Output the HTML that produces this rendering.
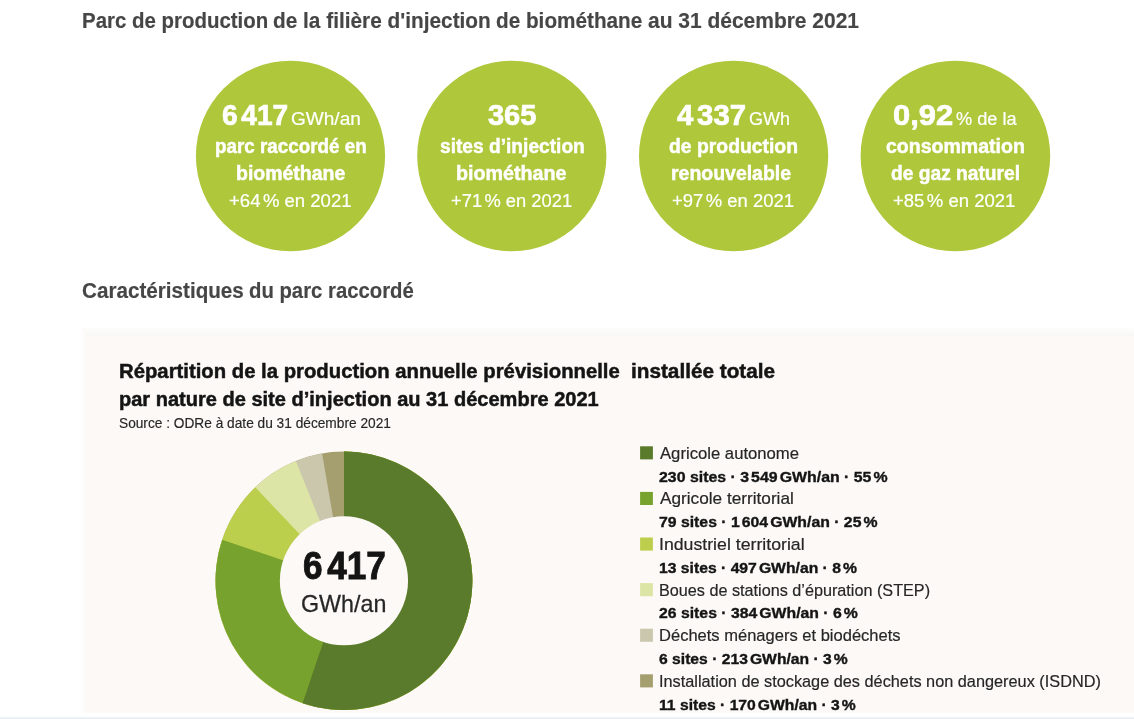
<!DOCTYPE html>
<html lang="fr">
<head>
<meta charset="utf-8">
<title>Parc de production de la filière d'injection de biométhane</title>
<style>
html,body{margin:0;padding:0;background:#fff;}
body{width:1134px;height:719px;position:relative;overflow:hidden;font-family:"Liberation Sans",Arial,sans-serif;}
.t{position:absolute;display:block;white-space:nowrap;transform-origin:0 0;margin:0;padding:0;}
h1,h2,h3,p,ul,li,section{margin:0;padding:0;font:inherit;list-style:none;}
.panel{position:absolute;left:81px;top:328px;width:1053px;height:386px;background:linear-gradient(to right,#fffefe 0,#fcf9f7 6px);}
.panel:after{content:"";position:absolute;left:0;right:0;bottom:0;height:3px;background:linear-gradient(rgba(255,255,255,0),#fefefd);}
.panel:before{content:"";position:absolute;left:5px;top:0;right:0;height:8px;background:linear-gradient(#fdfdfc,#f7f8f6);}
.foot{position:absolute;left:0;top:716px;width:1134px;height:3px;background:linear-gradient(rgba(244,249,251,0),#f2f7f9 45%,#e2e8ee);}
svg{position:absolute;left:0;top:0;}
</style>
</head>
<body>
<div class="panel"></div>
<svg width="1134" height="719" viewBox="0 0 1134 719">
<g fill="#afc73a">
<ellipse cx="290.5" cy="156" rx="94.6" ry="95.3"/>
<ellipse cx="511.8" cy="156" rx="94.6" ry="95.3"/>
<ellipse cx="733.6" cy="156" rx="94.6" ry="95.3"/>
<ellipse cx="955.4" cy="156" rx="94.8" ry="95.3"/>
</g>
<g transform="translate(343.95 580.8) scale(1 1.0065)"><circle r="128.4" fill="#a59e6f"/>
<path fill="#cac7ad" d="M0 0L0 -128.4A128.4 128.4 0 1 1 -21.85 -126.53Z"/>
<path fill="#dce4a6" d="M0 0L0 -128.4A128.4 128.4 0 1 1 -48.10 -119.05Z"/>
<path fill="#bbcf4d" d="M0 0L0 -128.4A128.4 128.4 0 1 1 -88.71 -92.83Z"/>
<path fill="#77a22e" d="M0 0L0 -128.4A128.4 128.4 0 1 1 -121.76 -40.74Z"/>
<path fill="#5a7b2b" d="M0 0L0 -128.4A128.4 128.4 0 1 1 -41.38 121.55Z"/>
<circle r="64.1" fill="#fcf9f7"/></g>
<rect x="640.1" y="446.3" width="12.8" height="13.1" fill="#5a7b2b"/>
<rect x="640.1" y="491.9" width="12.8" height="13.1" fill="#77a22e"/>
<rect x="640.1" y="537.5" width="12.8" height="13.1" fill="#bbcf4d"/>
<rect x="640.1" y="583.1" width="12.8" height="13.1" fill="#dce4a6"/>
<rect x="640.1" y="628.7" width="12.8" height="13.1" fill="#cac7ad"/>
<rect x="640.1" y="674.3" width="12.8" height="13.1" fill="#a59e6f"/>
</svg>
<h1><span class="t" style="left:81.90px;top:8.10px;font-size:21.6px;line-height:26px;font-weight:700;color:#464646;-webkit-text-stroke:0.15px #464646;transform:scaleX(0.9466)">Parc de production</span>
<span class="t" style="left:273.14px;top:8.10px;font-size:21.6px;line-height:26px;font-weight:700;color:#464646;-webkit-text-stroke:0.15px #464646;transform:scaleX(0.9640)">de la filière d'injection</span>
<span class="t" style="left:496.14px;top:8.10px;font-size:21.6px;line-height:26px;font-weight:700;color:#464646;-webkit-text-stroke:0.15px #464646;transform:scaleX(0.9602)">de biométhane</span>
<span class="t" style="left:648.33px;top:8.10px;font-size:21.6px;line-height:26px;font-weight:700;color:#464646;-webkit-text-stroke:0.15px #464646;transform:scaleX(0.9712)">au 31 décembre 2021</span></h1>
<section class="kpis">
<div class="kpi"><span class="t" style="left:221.50px;top:95.70px;font-size:30.3px;line-height:37px;font-weight:700;color:#ffffff;-webkit-text-stroke:0.73px #ffffff;transform:scaleX(0.9263)">6<span style="letter-spacing:-.07em">&#8201;</span>417</span>
<span class="t" style="left:290.79px;top:106.70px;font-size:18.9px;line-height:23px;font-weight:400;color:#ffffff;-webkit-text-stroke:0.21px #ffffff;transform:scaleX(1.0075)">GWh/an</span>
<span class="t" style="left:214.72px;top:133.60px;font-size:20px;line-height:24px;font-weight:700;color:#ffffff;-webkit-text-stroke:0.48px #ffffff;transform:scaleX(0.9406)">parc raccordé en</span>
<span class="t" style="left:235.58px;top:160.60px;font-size:20px;line-height:24px;font-weight:700;color:#ffffff;-webkit-text-stroke:0.48px #ffffff;transform:scaleX(0.9735)">biométhane</span>
<span class="t" style="left:229.27px;top:189.80px;font-size:17.6px;line-height:22px;font-weight:400;color:#ffffff;-webkit-text-stroke:0.19px #ffffff;transform:scaleX(1.0537)">+64<span style="letter-spacing:-.07em">&#8201;</span>% en 2021</span></div>
<div class="kpi"><span class="t" style="left:488.05px;top:95.70px;font-size:30.3px;line-height:37px;font-weight:700;color:#ffffff;-webkit-text-stroke:0.73px #ffffff;transform:scaleX(0.9569)">365</span>
<span class="t" style="left:439.77px;top:133.60px;font-size:20px;line-height:24px;font-weight:700;color:#ffffff;-webkit-text-stroke:0.48px #ffffff;transform:scaleX(0.9582)">sites d’injection</span>
<span class="t" style="left:456.26px;top:160.60px;font-size:20px;line-height:24px;font-weight:700;color:#ffffff;-webkit-text-stroke:0.48px #ffffff;transform:scaleX(0.9852)">biométhane</span>
<span class="t" style="left:450.98px;top:189.80px;font-size:17.6px;line-height:22px;font-weight:400;color:#ffffff;-webkit-text-stroke:0.19px #ffffff;transform:scaleX(1.0415)">+71<span style="letter-spacing:-.07em">&#8201;</span>% en 2021</span></div>
<div class="kpi"><span class="t" style="left:676.89px;top:95.70px;font-size:30.3px;line-height:37px;font-weight:700;color:#ffffff;-webkit-text-stroke:0.73px #ffffff;transform:scaleX(0.9662)">4<span style="letter-spacing:-.07em">&#8201;</span>337</span>
<span class="t" style="left:748.95px;top:106.70px;font-size:18.9px;line-height:23px;font-weight:400;color:#ffffff;-webkit-text-stroke:0.21px #ffffff;transform:scaleX(0.9532)">GWh</span>
<span class="t" style="left:669.38px;top:133.60px;font-size:20px;line-height:24px;font-weight:700;color:#ffffff;-webkit-text-stroke:0.48px #ffffff;transform:scaleX(0.9676)">de production</span>
<span class="t" style="left:671.28px;top:160.60px;font-size:20px;line-height:24px;font-weight:700;color:#ffffff;-webkit-text-stroke:0.48px #ffffff;transform:scaleX(0.9731)">renouvelable</span>
<span class="t" style="left:671.67px;top:189.80px;font-size:17.6px;line-height:22px;font-weight:400;color:#ffffff;-webkit-text-stroke:0.19px #ffffff;transform:scaleX(1.0485)">+97<span style="letter-spacing:-.07em">&#8201;</span>% en 2021</span></div>
<div class="kpi"><span class="t" style="left:893.28px;top:95.70px;font-size:30.3px;line-height:37px;font-weight:700;color:#ffffff;-webkit-text-stroke:0.73px #ffffff;transform:scaleX(1.0208)">0,92</span>
<span class="t" style="left:955.55px;top:106.70px;font-size:18.9px;line-height:23px;font-weight:400;color:#ffffff;-webkit-text-stroke:0.21px #ffffff;transform:scaleX(0.9625)">% de la</span>
<span class="t" style="left:886.03px;top:133.60px;font-size:20px;line-height:24px;font-weight:700;color:#ffffff;-webkit-text-stroke:0.48px #ffffff;transform:scaleX(0.9764)">consommation</span>
<span class="t" style="left:891.39px;top:160.60px;font-size:20px;line-height:24px;font-weight:700;color:#ffffff;-webkit-text-stroke:0.48px #ffffff;transform:scaleX(0.9599)">de gaz naturel</span>
<span class="t" style="left:893.27px;top:189.80px;font-size:17.6px;line-height:22px;font-weight:400;color:#ffffff;-webkit-text-stroke:0.19px #ffffff;transform:scaleX(1.0519)">+85<span style="letter-spacing:-.07em">&#8201;</span>% en 2021</span></div>
</section>
<h2><span class="t" style="left:81.74px;top:277.50px;font-size:21.6px;line-height:26px;font-weight:700;color:#464646;-webkit-text-stroke:0.15px #464646;transform:scaleX(0.9563)">Caractéristiques</span>
<span class="t" style="left:249.26px;top:277.50px;font-size:21.6px;line-height:26px;font-weight:700;color:#464646;-webkit-text-stroke:0.15px #464646;transform:scaleX(0.9407)">du parc raccordé</span></h2>
<section class="chart">
<h3><span class="t" style="left:118.75px;top:358.00px;font-size:20.6px;line-height:25px;font-weight:700;color:#141414;-webkit-text-stroke:0.49px #141414;transform:scaleX(0.9857)">Répartition de la production annuelle prévisionnelle</span>
<span class="t" style="left:630.79px;top:358.00px;font-size:20.6px;line-height:25px;font-weight:700;color:#141414;-webkit-text-stroke:0.49px #141414;transform:scaleX(1.0070)">installée totale</span>
<span class="t" style="left:118.76px;top:385.60px;font-size:20.6px;line-height:25px;font-weight:700;color:#141414;-webkit-text-stroke:0.49px #141414;transform:scaleX(0.9724)">par nature de site d’injection au 31 décembre 2021</span></h3>
<p class="src"><span class="t" style="left:118.80px;top:414.80px;font-size:13.9px;line-height:17px;font-weight:400;color:#262626;-webkit-text-stroke:0.15px #262626;transform:scaleX(0.9862)">Source : ODRe à date du 31 décembre 2021</span></p>
<ul class="legend">
<li><span class="t" style="left:660.01px;top:442.70px;font-size:16.2px;line-height:20px;font-weight:400;color:#262626;-webkit-text-stroke:0.18px #262626;transform:scaleX(1.0300)">Agricole autonome</span>
<span class="t" style="left:659.38px;top:467.70px;font-size:15px;line-height:18px;font-weight:700;color:#141414;-webkit-text-stroke:0.36px #141414;transform:scaleX(1.0586)">230 sites · 3<span style="letter-spacing:-.07em">&#8201;</span>549<span style="letter-spacing:-.07em">&#8201;</span>GWh/an · 55<span style="letter-spacing:-.07em">&#8201;</span>%</span></li>
<li><span class="t" style="left:660.00px;top:488.30px;font-size:16.2px;line-height:20px;font-weight:400;color:#262626;-webkit-text-stroke:0.18px #262626;transform:scaleX(1.0625)">Agricole territorial</span>
<span class="t" style="left:659.29px;top:513.28px;font-size:15px;line-height:18px;font-weight:700;color:#141414;-webkit-text-stroke:0.36px #141414;transform:scaleX(1.0524)">79 sites · 1<span style="letter-spacing:-.07em">&#8201;</span>604<span style="letter-spacing:-.07em">&#8201;</span>GWh/an · 25<span style="letter-spacing:-.07em">&#8201;</span>%</span></li>
<li><span class="t" style="left:658.65px;top:533.90px;font-size:16.2px;line-height:20px;font-weight:400;color:#262626;-webkit-text-stroke:0.18px #262626;transform:scaleX(1.0935)">Industriel territorial</span>
<span class="t" style="left:658.95px;top:558.86px;font-size:15px;line-height:18px;font-weight:700;color:#141414;-webkit-text-stroke:0.36px #141414;transform:scaleX(1.0476)">13 sites · 497<span style="letter-spacing:-.07em">&#8201;</span>GWh/an · 8<span style="letter-spacing:-.07em">&#8201;</span>%</span></li>
<li><span class="t" style="left:658.92px;top:579.50px;font-size:16.2px;line-height:20px;font-weight:400;color:#262626;-webkit-text-stroke:0.18px #262626;transform:scaleX(1.0008)">Boues de stations d’épuration (STEP)</span>
<span class="t" style="left:659.39px;top:604.44px;font-size:15px;line-height:18px;font-weight:700;color:#141414;-webkit-text-stroke:0.36px #141414;transform:scaleX(1.0522)">26 sites · 384<span style="letter-spacing:-.07em">&#8201;</span>GWh/an · 6<span style="letter-spacing:-.07em">&#8201;</span>%</span></li>
<li><span class="t" style="left:658.89px;top:625.10px;font-size:16.2px;line-height:20px;font-weight:400;color:#262626;-webkit-text-stroke:0.18px #262626;transform:scaleX(1.0209)">Déchets ménagers et biodéchets</span>
<span class="t" style="left:659.30px;top:650.02px;font-size:15px;line-height:18px;font-weight:700;color:#141414;-webkit-text-stroke:0.36px #141414;transform:scaleX(1.0447)">6 sites · 213<span style="letter-spacing:-.07em">&#8201;</span>GWh/an · 3<span style="letter-spacing:-.07em">&#8201;</span>%</span></li>
<li><span class="t" style="left:658.78px;top:670.70px;font-size:16.2px;line-height:20px;font-weight:400;color:#262626;-webkit-text-stroke:0.18px #262626;transform:scaleX(1.0062)">Installation de stockage des déchets non dangereux (ISDND)</span>
<span class="t" style="left:658.95px;top:695.60px;font-size:15px;line-height:18px;font-weight:700;color:#141414;-webkit-text-stroke:0.36px #141414;transform:scaleX(1.0457)">11 sites · 170<span style="letter-spacing:-.07em">&#8201;</span>GWh/an · 3<span style="letter-spacing:-.07em">&#8201;</span>%</span></li>
</ul>
<div class="total"><span class="t" style="left:302.53px;top:543.00px;font-size:37.9px;line-height:46px;font-weight:700;color:#141414;-webkit-text-stroke:0.91px #141414;transform:scaleX(0.9274)">6<span style="letter-spacing:-.07em">&#8201;</span>417</span>
<span class="t" style="left:300.94px;top:589.10px;font-size:23.8px;line-height:29px;font-weight:400;color:#262626;-webkit-text-stroke:0.26px #262626;transform:scaleX(0.9774)">GWh/an</span></div>
</section>
<div class="foot"></div>
</body>
</html>
